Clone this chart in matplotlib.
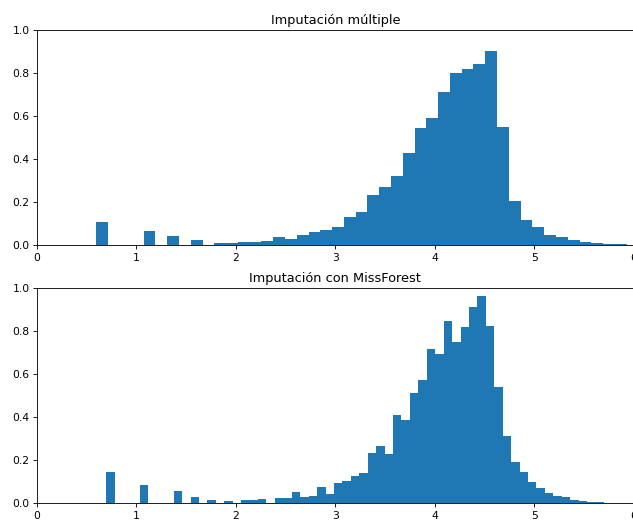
import numpy as np
import matplotlib
matplotlib.use("Agg")
import matplotlib.pyplot as plt

# histogram of multiple imputation (45 bins)
mult_lo, mult_hi = 0.598, 5.928
mult_heights = [0.107, 0, 0, 0, 0.066, 0, 0.045, 0, 0.023, 0,
                0.012, 0.012, 0.017, 0.017, 0.020, 0.037, 0.028, 0.048, 0.060, 0.070,
                0.085, 0.130, 0.153, 0.234, 0.269, 0.320, 0.430, 0.543, 0.593, 0.711,
                0.802, 0.819, 0.842, 0.904, 0.551, 0.204, 0.119, 0.084, 0.048, 0.037,
                0.025, 0.014, 0.009, 0.005, 0.005]

# histogram of MissForest imputation (59 bins)
mf_lo, mf_hi = 0.695, 5.700
mf_heights = [0.147, 0, 0, 0, 0.087, 0, 0, 0, 0.057, 0,
              0.029, 0, 0.015, 0, 0.011, 0, 0.015, 0.015, 0.020, 0,
              0.023, 0.023, 0.053, 0.029, 0.034, 0.076, 0.043, 0.093, 0.104, 0.125,
              0.141, 0.233, 0.267, 0.229, 0.411, 0.386, 0.512, 0.574, 0.716, 0.694,
              0.848, 0.752, 0.822, 0.915, 0.966, 0.826, 0.540, 0.313, 0.191, 0.144,
              0.098, 0.071, 0.047, 0.035, 0.028, 0.017, 0.012, 0.006, 0.006]

titles = ["Imputación múltiple", "Imputación con MissForest"]

dpi = 77
fig = plt.figure(figsize=(633 / dpi, 524 / dpi), dpi=dpi)
left = 37 / 633
width = (633.8 - 37) / 633
ax1 = fig.add_axes([left, 1 - 245.3 / 524, width, 215.3 / 524])
ax2 = fig.add_axes([left, 1 - 503.3 / 524, width, 215.0 / 524])

for ax, lo, hi, h, t in [(ax1, mult_lo, mult_hi, mult_heights, titles[0]),
                         (ax2, mf_lo, mf_hi, mf_heights, titles[1])]:
    edges = np.linspace(lo, hi, len(h) + 1)
    ax.bar(edges[:-1], h, width=np.diff(edges), align="edge",
           color="#1f77b4", linewidth=0)
    ax.set_xlim(0, 6)
    ax.set_ylim(0, 1.0)
    ax.set_title(t)

fig.savefig("out.png", dpi=dpi)
